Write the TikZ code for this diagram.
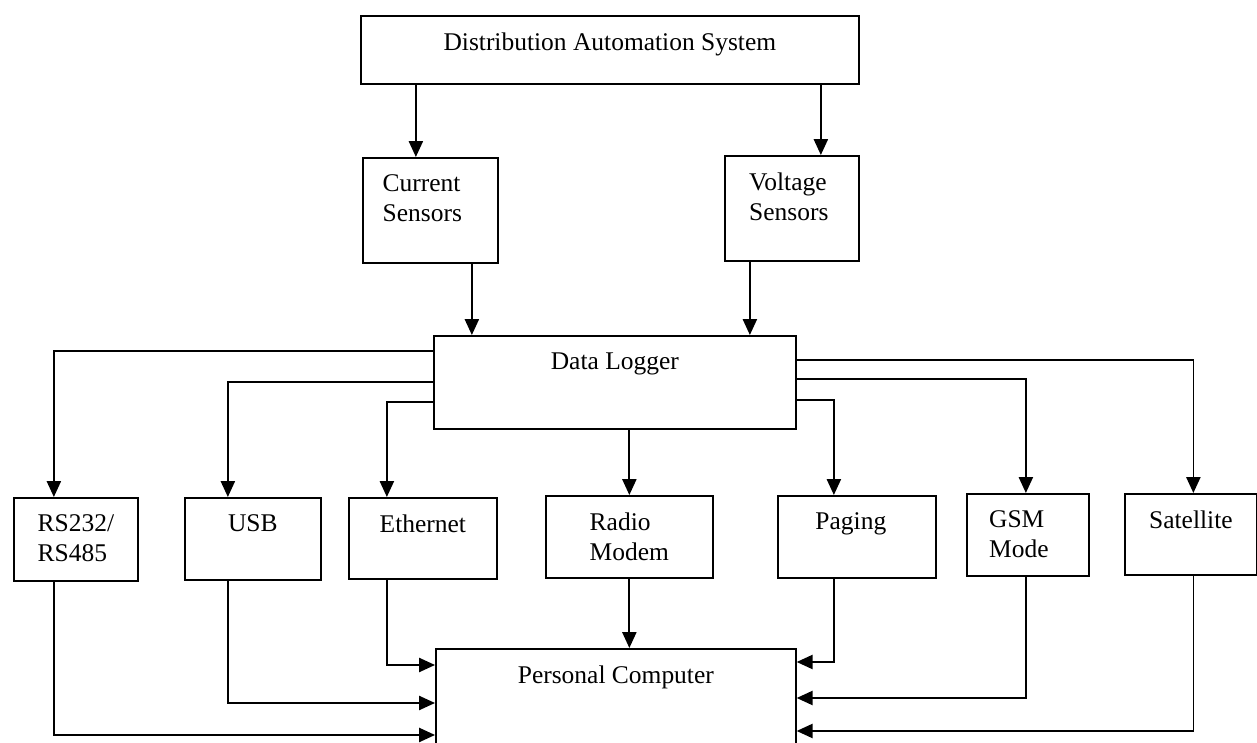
\documentclass[tikz,border=0pt]{standalone}
\usepackage{fontspec}
\setmainfont{Liberation Serif}
\usetikzlibrary{arrows.meta}

\begin{document}
\begin{tikzpicture}
	[x=0.02cm, y=-0.02cm,
	font=\fontsize{14.5}{17}\selectfont,
	box/.style={draw, line width=1pt, anchor=north west, inner sep=0pt},
	txt/.style={anchor=north, align=left, inner sep=0pt, yshift=-10pt},
	arr/.style={line width=1pt, -{Triangle[length=9pt,width=8pt]}}]
	\clip (0,0) rectangle (1257,743);
	% top part
	\node[box, minimum width=9.96cm, minimum height=1.36cm,
		label={[txt]north:Distribution Automation System}] (das) at (360,15) {};
	\node[box, minimum width=2.7cm, minimum height=2.1cm,
		label={[txt, xshift=-0.16cm]north:Current\\Sensors}] (cur) at (362,157) {};
	\node[box, minimum width=2.68cm, minimum height=2.1cm,
		label={[txt, xshift=-0.06cm]north:Voltage\\Sensors}] (vol) at (724,155) {};
	\node[box, minimum width=7.24cm, minimum height=1.86cm,
		label={[txt]north:Data Logger}] (dl) at (433,335) {};
	% interfaces
	\node[box, minimum width=2.48cm, minimum height=1.66cm,
		label={[txt]north:RS232/\\RS485}] (rs) at (13,497) {};
	\node[box, minimum width=2.72cm, minimum height=1.64cm,
		label={[txt]north:USB}] (usb) at (184,497) {};
	\node[box, minimum width=2.96cm, minimum height=1.62cm,
		label={[txt]north:Ethernet}] (eth) at (348,497) {};
	\node[box, minimum width=3.34cm, minimum height=1.64cm,
		label={[txt]north:Radio\\Modem}] (radio) at (545,495) {};
	\node[box, minimum width=3.16cm, minimum height=1.64cm,
		label={[txt, xshift=-0.12cm]north:Paging}] (pag) at (777,495) {};
	\node[box, minimum width=2.44cm, minimum height=1.64cm,
		label={[txt, xshift=-0.18cm]north:GSM\\Mode}] (gsm) at (966,493) {};
	\node[box, minimum width=2.64cm, minimum height=1.62cm,
		label={[txt]north:Satellite}] (sat) at (1124,493) {};
	\node[box, minimum width=7.2cm, minimum height=2.8cm,
		label={[txt]north:Personal Computer}] (pc) at (435,648) {};
	% entry points on the sensors
	\coordinate (cur in) at ([xshift=-0.29cm]cur.north);
	\coordinate (vol in) at ([xshift=0.58cm]vol.north);
	\coordinate (cur out) at ([xshift=0.83cm]cur.south);
	\coordinate (vol out) at ([xshift=-0.84cm]vol.south);
	\draw[arr] (das.south -| cur in) -- (cur in);
	\draw[arr] (das.south -| vol in) -- (vol in);
	\draw[arr] (cur out) -- (dl.north -| cur out);
	\draw[arr] (vol out) -- (dl.north -| vol out);
	% logger to interfaces
	\draw[arr] ([yshift=0.63cm]dl.west) -| ([xshift=-0.44cm]rs.north);
	\draw[arr] (dl.west) -| ([xshift=-0.5cm]usb.north);
	\draw[arr] ([yshift=-0.39cm]dl.west) -| ([xshift=-0.72cm]eth.north);
	\draw[arr] (dl.south -| radio.north) -- (radio.north);
	\draw[arr] ([yshift=-0.35cm]dl.east) -| ([xshift=-0.46cm]pag.north);
	\draw[arr] ([yshift=0.07cm]dl.east) -| ([xshift=-0.04cm]gsm.north);
	\draw[arr] ([yshift=0.45cm]dl.east) -| ([xshift=0.05cm]sat.north);
	% interfaces to computer
	\draw[arr] ([xshift=-0.44cm]rs.south) |- ([yshift=-1.74cm]pc.north west);
	\draw[arr] ([xshift=-0.5cm]usb.south) |- ([yshift=-1.1cm]pc.north west);
	\draw[arr] ([xshift=-0.72cm]eth.south) |- ([yshift=-0.34cm]pc.north west);
	\draw[arr] (radio.south) -- (radio.south |- pc.north);
	\draw[arr] ([xshift=-0.46cm]pag.south) |- ([yshift=-0.28cm]pc.north east);
	\draw[arr] ([xshift=-0.04cm]gsm.south) |- ([yshift=-1cm]pc.north east);
	\draw[arr] ([xshift=0.05cm]sat.south) |- ([yshift=-1.66cm]pc.north east);
\end{tikzpicture}
\end{document}
